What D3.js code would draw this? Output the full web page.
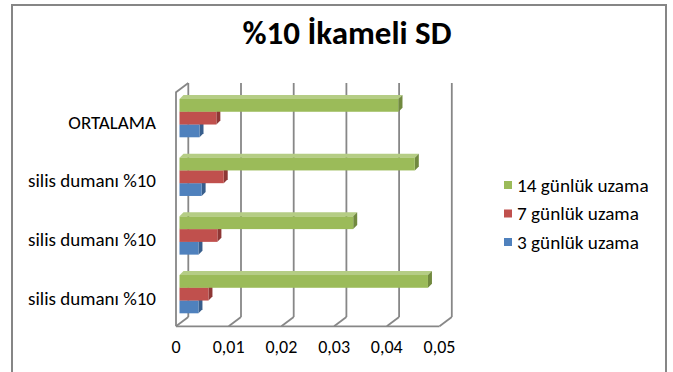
<!DOCTYPE html>
<html>
<head>
<meta charset="utf-8">
<script src="https://cdn.jsdelivr.net/npm/d3@7"></script>
<style>
  html, body { margin: 0; padding: 0; background: #fff; }
  svg { display: block; font-family: Carlito, Calibri, Lato, "Open Sans", sans-serif; }
</style>
</head>
<body>
<svg id="chart" width="673" height="372"></svg>
<script>
// Categories, top to bottom as drawn
const categories = ["ORTALAMA", "silis dumanı %10 ", "silis dumanı %10  ", "silis dumanı %10"];
const categoryLabels = ["ORTALAMA", "silis dumanı %10", "silis dumanı %10", "silis dumanı %10"];

// Series (legend order)
const seriesNames = ["14 günlük uzama", "7 günlük uzama", "3 günlük uzama"];
const seriesColors = ["#9BBB59", "#C0504D", "#4F81BD"];
const seriesSide = ["#71893F", "#8E3735", "#385E8C"];
const seriesTop = ["#B5CD85", "#D47C79", "#7FA2CE"];

// Values per series, in the same order as categories
const values14 = [0.0416, 0.0447, 0.0330, 0.0472];
const values7 = [0.0070, 0.0084, 0.0072, 0.0055];
const values3 = [0.0038, 0.0042, 0.0036, 0.0036];
const seriesValues = [values14, values7, values3];

const tickValues = [0, 0.01, 0.02, 0.03, 0.04, 0.05];
const tickLabels = ["0", "0,01", "0,02", "0,03", "0,04", "0,05"];

const svg = d3.select("#chart");

// Outer chart frame
svg.append("rect")
  .attr("x", 12).attr("y", 5).attr("width", 654).attr("height", 380)
  .attr("fill", "#fff").attr("stroke", "#868686").attr("stroke-width", 2);

// Title
svg.append("text")
  .attr("x", 347).attr("y", 44)
  .attr("text-anchor", "middle")
  .attr("font-weight", "bold")
  .attr("font-size", 33)
  .attr("fill", "#000")
  .text("%10 İkameli SD");

// 3D frame: front plane scale, plus a depth vector toward the back wall
const xFront = d3.scaleLinear().domain([0, 0.05]).range([176, 439.5]);
const depth = { dx: 12.3, dy: -9.3 };
const frontTop = 92.3, frontBottom = 326.3;
const backBottom = frontBottom + depth.dy, backTop = frontTop + depth.dy;

const grid = svg.append("g")
  .attr("fill", "none")
  .attr("stroke", "#878787")
  .attr("stroke-width", 1.8);

// Back wall gridlines and floor diagonals
tickValues.forEach(v => {
  const xf = xFront(v), xb = xf + depth.dx;
  grid.append("line").attr("x1", xb).attr("y1", backTop).attr("x2", xb).attr("y2", backBottom);
  grid.append("line").attr("x1", xb).attr("y1", backBottom).attr("x2", xf).attr("y2", frontBottom);
});
// Floor front edge
grid.append("line")
  .attr("x1", xFront(0)).attr("y1", frontBottom)
  .attr("x2", xFront(0.05)).attr("y2", frontBottom);
// Left side wall
grid.append("path")
  .attr("d", `M${xFront(0)},${frontBottom}L${xFront(0)},${frontTop}L${xFront(0) + depth.dx},${backTop}`);

// Tick labels along the front edge
svg.append("g").selectAll("text")
  .data(tickValues)
  .join("text")
  .attr("x", d => xFront(d))
  .attr("y", 353)
  .attr("text-anchor", "middle")
  .attr("font-size", 18)
  .attr("fill", "#000")
  .text((d, i) => tickLabels[i]);

// Bars
const xBar = d3.scaleLinear().domain([0, 0.05]).range([179.5, 442.7]);
const yBand = d3.scaleBand().domain(categories).range([99, 313.3]).paddingInner(0.3475).paddingOuter(0);
const ySub = d3.scaleBand().domain(seriesNames).range([0, yBand.bandwidth()]);
const ext = 4; // bar depth offset

const bars = svg.append("g");
categories.forEach((cat, ci) => {
  // draw lowest series first so the bar above covers its top face
  for (let si = seriesNames.length - 1; si >= 0; si--) {
    const v = seriesValues[si][ci];
    const x0 = xBar(0), x1 = xBar(v);
    const y = yBand(cat) + ySub(seriesNames[si]);
    const h = ySub.bandwidth();
    const g = bars.append("g");
    g.append("path")
      .attr("d", `M${x0},${y}L${x0 + ext},${y - ext}L${x1 + ext},${y - ext}L${x1},${y}Z`)
      .attr("fill", seriesTop[si]);
    g.append("path")
      .attr("d", `M${x1},${y}L${x1 + ext},${y - ext}L${x1 + ext},${y + h - ext}L${x1},${y + h}Z`)
      .attr("fill", seriesSide[si]);
    g.append("rect")
      .attr("x", x0).attr("y", y).attr("width", x1 - x0).attr("height", h)
      .attr("fill", seriesColors[si]);
  }
});

// Category labels
svg.append("g").selectAll("text")
  .data(categories)
  .join("text")
  .attr("x", 156)
  .attr("y", d => yBand(d) + yBand.bandwidth() / 2 + 4)
  .attr("dy", "0.35em")
  .attr("text-anchor", "end")
  .attr("font-size", 19)
  .attr("fill", "#000")
  .text((d, i) => categoryLabels[i]);

// Legend
const legend = svg.append("g");
seriesNames.forEach((name, i) => {
  const cy = 185 + i * 28.5;
  legend.append("rect")
    .attr("x", 504).attr("y", cy - 4).attr("width", 8).attr("height", 8)
    .attr("fill", seriesColors[i]);
  legend.append("text")
    .attr("x", 517).attr("y", cy)
    .attr("dy", "0.35em")
    .attr("font-size", 19.2)
    .attr("fill", "#000")
    .text(name);
});
</script>
</body>
</html>
